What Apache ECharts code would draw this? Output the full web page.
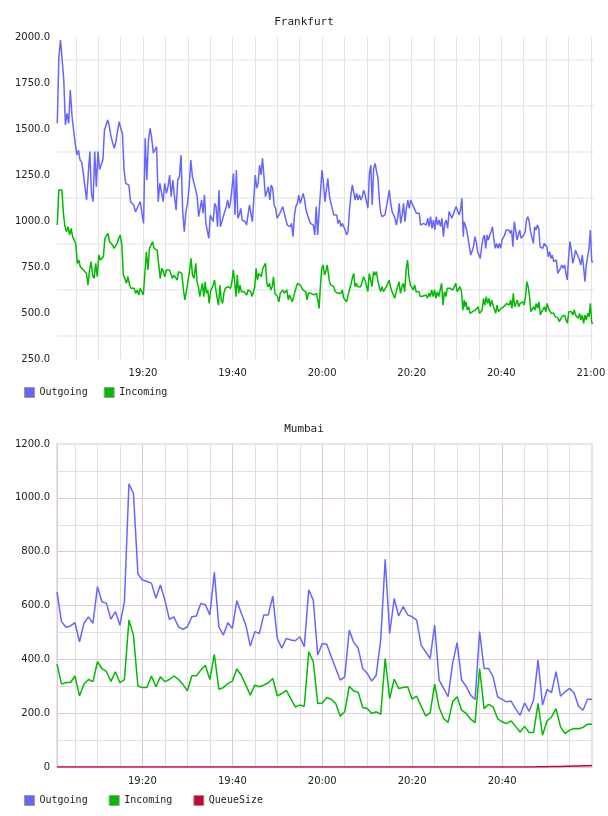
<!DOCTYPE html>
<html>
<head>
<meta charset="utf-8">
<script src="https://cdn.jsdelivr.net/npm/echarts@6/dist/echarts.min.js"></script>
<style>
  html, body { margin: 0; padding: 0; background: #fff; }
  #chart { width: 608px; height: 816px; }
</style>
</head>
<body>
<div id="chart"></div>
<script>
// All times are minutes after 19:00

const outgoingSpans = [[0.86, 31.4], [31.78, 61.27], [61.65, 91.52], [91.67, 120.5]];
const incomingSpans = [[0.86, 31.4], [31.78, 61.42], [61.65, 91.74], [91.81, 120.5]];

const frkOutgoingA = [1531, 1893, 1984, 1875, 1766, 1522, 1585, 1530, 1712, 1576,
    1495, 1422, 1359, 1385, 1331, 1320, 1259, 1250, 1114, 1250,
    1377, 1150, 1105, 1377, 1186, 1377, 1280, 1280, 1331, 1495,
    1522, 1549, 1513, 1458, 1467, 1395, 1431, 1422, 1540, 1504,
    1476, 1280, 1205, 1195, 1195, 1105, 1096, 1086, 1050, 1068,
    1059, 1105, 1041, 987, 1449, 1223, 1440, 1504, 1449, 1368,
    1368, 1404, 1105, 1205, 1205, 1105, 1205, 1150, 1186, 1250,
    1132, 1223, 1132, 1059, 1223, 1240, 1359, 1059, 942, 1050,
    1096, 1186, 1331, 1240, 1205];
const frkOutgoingB = [1168, 1132, 1024, 1033, 1114, 1042, 1141, 987, 978, 906,
    1033, 1024, 996, 1096, 1078, 969, 1168, 969, 978, 1024,
    1033, 1078, 1114, 1069, 1105, 1105, 1259, 1033, 1277, 1015,
    1033, 1069, 1005, 1015, 996, 978, 1033, 1087, 1042, 996,
    987, 1250, 1178, 1205, 1304, 1250, 1341, 1241, 1132, 1132,
    1187, 1114, 1196, 1178, 1087, 1069, 1015, 1015, 1042, 1060,
    1078, 1042, 1042, 978, 987, 969, 987, 915, 1033, 1078,
    1096, 1141, 1096, 1105, 1150, 1114, 1060, 1033, 1042, 987,
    996, 978, 924, 1078, 924, 1051, 1042, 1277, 1205, 1105,
    1114, 1232];
const frkOutgoingC = [1132, 1096, 1087, 1033, 1024, 1033, 987, 1005, 969, 987,
    978, 951, 924, 942, 1060, 1141, 1196, 1187, 1114, 1150,
    1114, 1141, 1114, 1132, 1168, 1141, 1150, 1069, 1259, 1304,
    1087, 1286, 1313, 1322, 1232, 1114, 1042, 1024, 1033, 1033,
    1078, 1069, 1168, 1096, 1051, 1060, 1015, 978, 1024, 1096,
    987, 1033, 1096, 996, 1069, 1114, 1069, 1114, 1123, 1078,
    1069, 1042, 1033, 1042, 978, 987, 987, 996, 978, 1015,
    969, 1024, 960, 1005, 951, 1024, 978, 1005, 969, 1015,
    915, 987, 1005, 960, 1051, 1042, 1015, 1024, 1060, 1078,
    1069, 1033, 1060, 1123, 915];
const frkOutgoingD = [996, 978, 951, 906, 860, 815, 815, 860, 915, 888,
    833, 824, 797, 860, 906, 924, 851, 924, 897, 924,
    942, 969, 897, 851, 878, 851, 878, 851, 897, 888,
    924, 951, 942, 951, 933, 951, 860, 996, 951, 897,
    924, 951, 906, 897, 924, 942, 1005, 1024, 996, 942,
    933, 878, 969, 951, 978, 960, 860, 869, 851, 878,
    869, 860, 806, 833, 797, 815, 779, 770, 788, 715,
    715, 743, 761, 743, 761, 715, 679, 806, 888, 842,
    770, 797, 842, 833, 806, 788, 761, 815, 752, 670,
    761, 806, 851, 951, 779, 779];

const frkIncomingA = [978, 1168, 1177, 1168, 1042, 969, 942, 969, 924, 960,
    915, 896, 878, 770, 788, 752, 761, 734, 725, 715,
    652, 734, 779, 706, 688, 770, 697, 815, 788, 779,
    806, 906, 906, 933, 887, 878, 869, 851, 860, 878,
    906, 924, 869, 706, 688, 661, 697, 652, 634, 625,
    634, 607, 625, 598, 634, 625, 598, 598, 833, 734,
    851, 869, 887, 851, 842, 842, 833, 688, 743, 725,
    697, 734, 725, 734, 743, 688, 706, 697, 679, 725,
    725, 715, 634, 571, 616, 670, 725, 797, 706, 688];
const frkIncomingB = [770, 670, 643, 589, 589, 661, 589, 670, 607, 625,
    552, 616, 607, 652, 679, 625, 580, 543, 652, 571,
    552, 607, 634, 625, 643, 652, 634, 670, 734, 670,
    589, 706, 607, 652, 616, 607, 616, 607, 598, 625,
    634, 616, 589, 580, 643, 743, 679, 715, 725, 697,
    743, 734, 770, 661, 643, 661, 625, 643, 697, 607,
    598, 589, 561, 607, 598, 625, 607, 616, 625, 571,
    598, 607, 561, 589, 616, 643, 661, 670, 652, 661,
    625, 634, 616, 571, 607, 616, 607, 616, 598, 607,
    607, 571, 525, 652, 743, 761, 706, 725, 761, 770];
const frkIncomingC = [670, 652, 643, 643, 616, 625, 607, 616, 607, 625,
    580, 571, 561, 561, 625, 652, 688, 715, 643, 661,
    643, 652, 643, 652, 697, 679, 670, 616, 715, 679,
    643, 725, 706, 725, 679, 643, 616, 643, 616, 607,
    643, 652, 679, 643, 616, 625, 580, 616, 625, 670,
    607, 643, 661, 616, 734, 788, 697, 652, 643, 625,
    652, 616, 607, 616, 589, 589, 592, 589, 598, 580,
    607, 589, 625, 589, 625, 580, 616, 589, 625, 661,
    543, 616, 589, 634, 625, 634, 625, 625, 634, 661,
    616, 625, 643, 616, 516, 571];
const frkIncomingD = [534, 561, 516, 534, 498, 489, 507, 498, 516, 525,
    534, 498, 498, 516, 579, 543, 589, 552, 579, 534,
    570, 543, 552, 498, 543, 507, 516, 525, 534, 534,
    543, 552, 561, 543, 570, 525, 607, 534, 552, 570,
    534, 552, 543, 561, 543, 589, 670, 643, 589, 507,
    498, 534, 516, 552, 525, 561, 489, 507, 498, 534,
    507, 552, 525, 516, 498, 489, 498, 480, 480, 471,
    453, 453, 480, 471, 489, 462, 444, 507, 498, 507,
    489, 516, 489, 498, 471, 498, 462, 489, 444, 489,
    462, 498, 480, 552, 444, 444];

// Mumbai - one sample a minute, from 19:01 to 21:00
const mumbaiStart = 1;
const mumOutgoing = [650, 540, 519, 524, 536, 465, 534, 558, 534, 670,
    614, 608, 549, 577, 527, 614, 1052, 1017, 717, 695,
    689, 683, 627, 676, 620, 549, 558, 521, 511, 521,
    558, 561, 608, 603, 565, 723, 521, 490, 536, 515,
    618, 571, 527, 449, 503, 496, 565, 565, 635, 478,
    441, 478, 472, 469, 484, 447, 658, 620, 416, 459,
    456, 410, 366, 323, 335, 509, 463, 441, 366, 348,
    319, 341, 472, 772, 496, 626, 561, 596, 565, 558,
    546, 453, 428, 403, 527, 323, 292, 261, 385, 462,
    323, 300, 267, 251, 503, 366, 366, 335, 261, 251,
    242, 245, 217, 192, 238, 207, 248, 397, 230, 288,
    276, 354, 263, 279, 292, 276, 226, 211, 252, 252];
const mumIncoming = [382, 308, 314, 314, 338, 264, 308, 325, 317, 391,
    366, 354, 318, 354, 313, 325, 546, 490, 300, 295,
    295, 338, 298, 335, 317, 325, 338, 326, 307, 283,
    339, 339, 360, 378, 325, 418, 289, 295, 310, 319,
    364, 341, 304, 267, 304, 298, 304, 313, 329, 264,
    273, 285, 254, 223, 230, 226, 428, 391, 236, 238,
    258, 252, 236, 189, 205, 300, 282, 278, 221, 217,
    199, 205, 196, 403, 254, 326, 292, 295, 298, 252,
    263, 226, 190, 201, 308, 221, 180, 166, 242, 261,
    211, 199, 178, 165, 366, 217, 233, 223, 180, 168,
    161, 171, 151, 130, 151, 128, 128, 236, 118, 171,
    186, 217, 149, 124, 137, 143, 142, 147, 159, 159];
const mumQueueSize = [0, 0, 0, 0, 0, 0, 0, 0, 0, 0,
    0, 0, 0, 0, 0, 0, 0, 0, 0, 0,
    0, 0, 0, 0, 0, 0, 0, 0, 0, 0,
    0, 0, 0, 0, 0, 0, 0, 0, 0, 0,
    0, 0, 0, 0, 0, 0, 0, 0, 0, 0,
    0, 0, 0, 0, 0, 0, 0, 0, 0, 0,
    0, 0, 0, 0, 0, 0, 0, 0, 0, 0,
    0, 0, 0, 0, 0, 0, 0, 0, 0, 0,
    0, 0, 0, 0, 0, 0, 0, 0, 0, 0,
    0, 0, 0, 0, 0, 0, 0, 0, 0, 0,
    0, 0, 0, 0, 0, 0, 0, 1, 1, 1,
    2, 2, 2, 3, 3, 4, 4, 5, 5, 6];

const colors = { Outgoing: '#6666ff', Incoming: '#00bb00', QueueSize: '#cc0033' };
const labelFont = 'DejaVu Sans';
const monoFont = 'DejaVu Sans Mono';

// spread one stretch of readings evenly over its time span
function spread(values, span) {
    const n = values.length - 1;
    return values.map((v, i) => [span[0] + (span[1] - span[0]) * i / n, v]);
}

function joinStretches(stretches, spans) {
    let out = [];
    stretches.forEach((vals, i) => { out = out.concat(spread(vals, spans[i])); });
    return out;
}

function perMinute(values) {
    return values.map((v, i) => [mumbaiStart + i, v]);
}

function clock(m) {
    const h = 19 + Math.floor(m / 60);
    const mm = Math.round(m % 60);
    return h + ':' + (mm < 10 ? '0' : '') + mm;
}

function timeLabel(v) {
    return (Math.abs(v % 20) < 1e-6 && v > 0) ? clock(v) : '';
}

function lineSeries(name, data, axisIdx, yIdx) {
    return {
        name: name,
        type: 'line',
        xAxisIndex: axisIdx,
        yAxisIndex: yIdx,
        data: data,
        showSymbol: false,
        symbol: 'none',
        animation: false,
        lineStyle: { width: 1.5, color: colors[name] },
        itemStyle: { color: colors[name] }
    };
}

const frkOutgoing = joinStretches([frkOutgoingA, frkOutgoingB, frkOutgoingC, frkOutgoingD], outgoingSpans);
const frkIncoming = joinStretches([frkIncomingA, frkIncomingB, frkIncomingC, frkIncomingD], incomingSpans);

const axisText = { color: '#222', fontFamily: labelFont, fontSize: 10 };
const purple = '#dfc6df';
const grey = '#e0e0e0';

const chart = echarts.init(document.getElementById('chart'), null, { renderer: 'canvas' });
chart.setOption({
    animation: false,
    backgroundColor: '#fff',
    title: [
        { text: 'Frankfurt', left: 'center', top: 12,
          textStyle: { fontFamily: monoFont, fontSize: 11, fontWeight: 'normal', color: '#222' } },
        { text: 'Mumbai', left: 'center', top: 419,
          textStyle: { fontFamily: monoFont, fontSize: 11, fontWeight: 'normal', color: '#222' } }
    ],
    legend: [
        { data: ['Outgoing', 'Incoming'], left: 24, top: 387, padding: 0, icon: 'rect',
          itemWidth: 10, itemHeight: 10, itemGap: 16,
          itemStyle: { borderColor: '#999', borderWidth: 1 },
          textStyle: { fontFamily: monoFont, fontSize: 10, color: '#222' } },
        { data: ['Outgoing', 'Incoming', 'QueueSize'], left: 24, top: 795, padding: 0, icon: 'rect',
          itemWidth: 10, itemHeight: 10, itemGap: 21,
          itemStyle: { borderColor: '#999', borderWidth: 1 },
          textStyle: { fontFamily: monoFont, fontSize: 10, color: '#222' } }
    ],
    grid: [
        { left: 57, top: 37, width: 537, height: 322, outerBoundsMode: 'none' },
        { left: 57, top: 444, width: 535, height: 323, outerBoundsMode: 'none',
          show: true, borderColor: '#efe0ef', borderWidth: 2, backgroundColor: 'transparent' }
    ],
    xAxis: [
        { type: 'value', gridIndex: 0, min: 0.8, max: 120.7, minInterval: 5, maxInterval: 5,
          axisLine: { show: false }, axisTick: { show: false },
          axisLabel: Object.assign({ formatter: timeLabel, margin: 9, showMinLabel: false, showMaxLabel: false }, axisText),
          splitLine: { show: true, showMinLine: false, showMaxLine: false, lineStyle: { color: '#e4e4e4', width: 1 } } },
        { type: 'value', gridIndex: 1, min: 1, max: 120, minInterval: 20, maxInterval: 20,
          axisLine: { show: false }, axisTick: { show: false },
          axisLabel: Object.assign({ formatter: timeLabel, margin: 9, showMinLabel: false, showMaxLabel: false }, axisText),
          splitLine: { show: true, showMaxLine: false, lineStyle: { color: purple, width: 1 } },
          minorTick: { show: false, splitNumber: 4 },
          minorSplitLine: { show: true, lineStyle: { color: grey, width: 1 } } }
    ],
    yAxis: [
        { type: 'value', gridIndex: 0, min: 250, max: 2000, interval: 250,
          axisLine: { show: false }, axisTick: { show: false },
          axisLabel: Object.assign({ formatter: v => v.toFixed(1), margin: 7 }, axisText),
          splitLine: { show: false } },
        // Frankfurt draws its horizontal grid half a step off the labels
        { type: 'value', gridIndex: 0, position: 'right', min: -0.5, max: 6.5, minInterval: 1, maxInterval: 1,
          axisLine: { show: false }, axisTick: { show: false }, axisLabel: { show: false },
          splitLine: { show: true, showMinLine: false, showMaxLine: false, lineStyle: { color: '#f0f0f0', width: 2 } } },
        { type: 'value', gridIndex: 1, min: 0, max: 1200, interval: 200,
          axisLine: { show: false }, axisTick: { show: false },
          axisLabel: Object.assign({ formatter: v => (v === 0 ? '0' : v.toFixed(1)), margin: 7 }, axisText),
          splitLine: { show: true, showMaxLine: false, lineStyle: { color: purple, width: 1 } },
          minorTick: { show: false, splitNumber: 2 },
          minorSplitLine: { show: true, lineStyle: { color: grey, width: 1 } } }
    ],
    series: [
        lineSeries('Outgoing', frkOutgoing, 0, 0),
        lineSeries('Incoming', frkIncoming, 0, 0),
        lineSeries('Outgoing', perMinute(mumOutgoing), 1, 2),
        lineSeries('Incoming', perMinute(mumIncoming), 1, 2),
        lineSeries('QueueSize', perMinute(mumQueueSize), 1, 2)
    ]
});
</script>
</body>
</html>
